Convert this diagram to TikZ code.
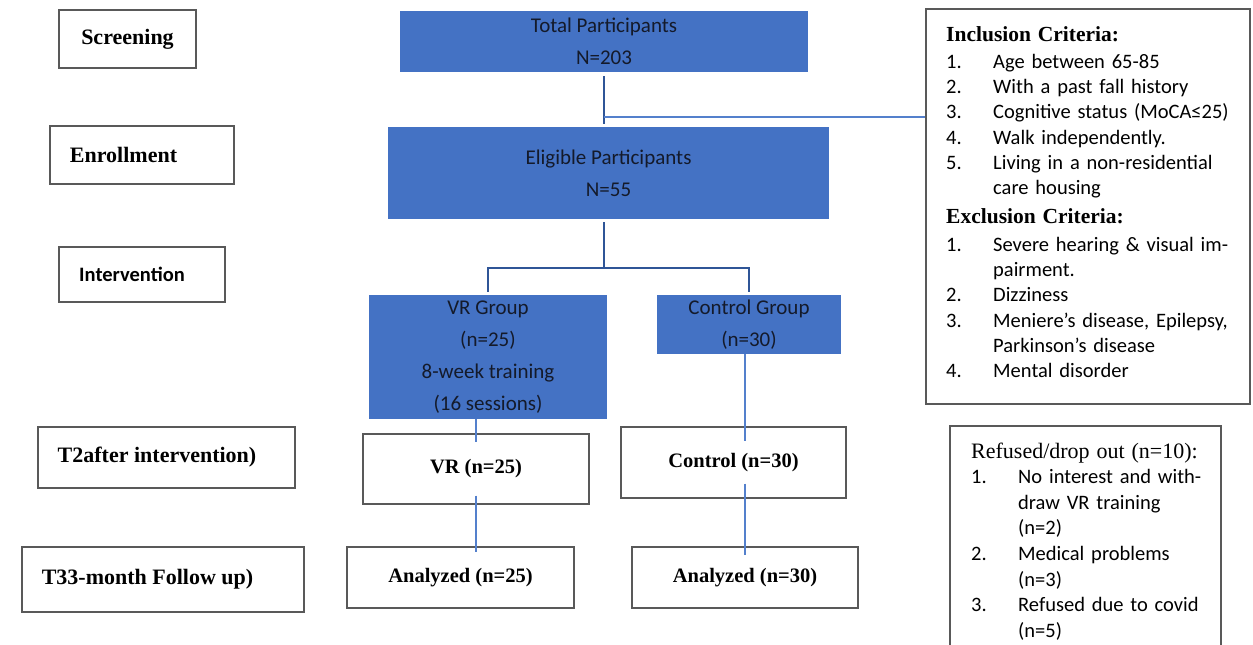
\documentclass[tikz,border=0pt]{standalone}
\usepackage{fontspec}
\setmainfont{Liberation Serif}
\newfontfamily\calibri{Carlito}
\usepackage{xcolor}
\usetikzlibrary{calc,positioning}

\definecolor{boxblue}{HTML}{4472C4}
\definecolor{linkblue}{HTML}{2F5597}
\definecolor{thinblue}{HTML}{5480CC}
\definecolor{edgegray}{HTML}{595959}
\definecolor{inkblue}{HTML}{141A2A}

% hanging number of a criteria line
\newcommand\critem[2][47pt]{\makebox[#1][l]{#2}}

\begin{document}
\begin{tikzpicture}[x=1pt,y=-1pt,
  stage/.style={draw=edgegray,line width=1.3pt,fill=white,inner sep=0pt,
    font=\fontsize{22}{26}\selectfont\bfseries},
  arm/.style={stage,font=\fontsize{20.5}{24}\selectfont\bfseries},
  group/.style={fill=boxblue,text=inkblue,inner sep=0pt,align=center,
    font=\calibri\fontsize{21}{32}\selectfont},
  trunk/.style={linkblue,line width=2.6pt},
  twig/.style={thinblue,line width=1.3pt},
  listtxt/.style={anchor=base west,inner sep=0pt,align=left,
    font=\calibri\fontsize{20.5}{25.3}\selectfont}]
  \useasboundingbox (0,0) rectangle (1253,645);

  % stages on the left
  \node[stage,minimum width=137pt,minimum height=58pt] (screen) at (127.5,39) {Screening};
  \node[stage,minimum width=184pt,minimum height=58pt] (enrol) at (142,155) {Enrollment\hspace*{37pt}};
  \node[stage,minimum width=166pt,minimum height=55pt,
    font=\calibri\bfseries\fontsize{20.5}{25}\selectfont] (interv) at (142,274.5) {Intervention\hspace*{20pt}};
  \node[stage,minimum width=257pt,minimum height=61pt] (after) at (166.5,457.5) {T2after intervention)\hspace*{19pt}};
  \node[stage,minimum width=282pt,minimum height=65pt] (follow) at (163,579.5) {T33-month Follow up)\hspace*{31pt}};

  % blue boxes
  \node[group,minimum width=408pt,minimum height=61pt] (total) at (604,41.5) {Total Participants\\N=203};
  \node[group,minimum width=441pt,minimum height=92pt] (elig) at (608.5,173) {Eligible Participants\\N=55};
  \node[group,minimum width=238pt,minimum height=124pt] (vrg) at (488,357)
    {VR Group\\(n=25)\\8-week training\\(16 sessions)};
  \node[group,minimum width=184pt,minimum height=59pt] (ctlg) at (749,324.5) {Control Group\\(n=30)};

  % arms
  \node[arm,minimum width=226pt,minimum height=70pt] (vr) at (476,469) {VR (n=25)};
  \node[arm,minimum width=225pt,minimum height=71pt] (ctl) at (733.5,462.5) {Control (n=30)};
  \node[arm,minimum width=227pt,minimum height=61pt] (anal25) at (460.5,577.5) {Analyzed (n=25)};
  \node[arm,minimum width=226pt,minimum height=61pt] (anal30) at (745,577.5) {Analyzed (n=30)};

  % criteria
  \node[stage,minimum width=324pt,minimum height=395pt] (incl) at (1088,206.5) {};
  \node[listtxt,text width=295pt] (incltxt) at (946,41) {%
    {\rmfamily\bfseries\fontsize{21.5}{25}\selectfont Inclusion Criteria:}\\[2pt]
    \critem{1.}Age between 65-85\\
    \critem{2.}With a past fall history\\
    \critem{3.}Cognitive status (MoCA≤25)\\
    \critem{4.}Walk independently.\\
    \critem{5.}Living in a non-residential\\
    \hspace*{47pt}care housing\\[3pt]
    {\rmfamily\bfseries\fontsize{21.5}{25}\selectfont Exclusion Criteria:}\\[3pt]
    \critem{1.}Severe hearing \& visual im-\\
    \hspace*{47pt}pairment.\\
    \critem{2.}Dizziness\\
    \critem{3.}Meniere’s disease, Epilepsy,\\
    \hspace*{47pt}Parkinson’s disease\\
    \critem{4.}Mental disorder};

  % drop outs
  \node[stage,minimum width=271pt,minimum height=234pt] (drop) at (1085.5,543) {};
  \node[listtxt,text width=240pt,font=\calibri\fontsize{20.5}{25.6}\selectfont] (droptxt) at (971,458) {%
    {\rmfamily\fontsize{22}{25}\selectfont Refused/drop out (n=10):}\\
    \critem{1.}No interest and with-\\
    \hspace*{47pt}draw VR training\\
    \hspace*{47pt}(n=2)\\
    \critem{2.}Medical problems\\
    \hspace*{47pt}(n=3)\\
    \critem{3.}Refused due to covid\\
    \hspace*{47pt}(n=5)};

  % connectors
  \coordinate (tap) at (604,117);
  \coordinate (fork) at (604,268);
  \draw[trunk,shorten <=4pt,shorten >=3pt] (total.south -| tap) -- (elig.north -| tap);
  \draw[twig,line width=1.6pt] (tap) -- (tap -| incl.west);
  \draw[trunk,shorten <=3pt] (elig.south -| fork) -- (fork);
  \draw[trunk,shorten <=3pt,shorten >=3pt] (vrg.north) -- (vrg.north |- fork) -- (ctlg.north |- fork) -- (ctlg.north);
  \draw[twig,shorten >=-9pt] (vr.north |- vrg.south) -- (vr.north);
  \draw[twig,shorten <=-9pt,shorten >=-6pt] (vr.south) -- (vr.south |- anal25.north);
  \draw[twig,shorten >=-15pt] (anal30.north |- ctlg.south) -- (anal30.north |- ctl.north);
  \draw[twig,shorten <=-15pt,shorten >=-9pt] (anal30.north |- ctl.south) -- (anal30.north);
\end{tikzpicture}
\end{document}
